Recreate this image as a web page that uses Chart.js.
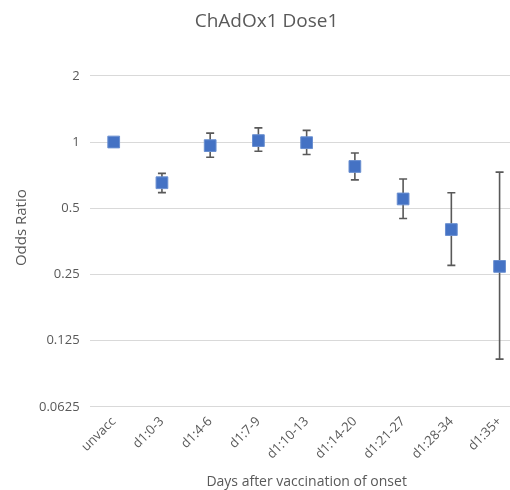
<!DOCTYPE html>
<html>
<head>
<meta charset="utf-8">
<script src="https://cdn.jsdelivr.net/npm/chart.js@4/dist/chart.umd.min.js"></script>
<style>
  html, body { margin: 0; padding: 0; overflow: hidden; background: #fff; }
  #wrap { width: 533px; height: 490px; }
</style>
</head>
<body>
<div id="wrap"><canvas id="c" width="533" height="490"></canvas></div>
<script>
const categories = ["unvacc", "d1:0-3", "d1:4-6", "d1:7-9", "d1:10-13", "d1:14-20", "d1:21-27", "d1:28-34", "d1:35+"];
const oddsRatio  = [1.0, 0.653, 0.963, 1.015, 0.993, 0.774, 0.551, 0.40, 0.272];
const lowerCI    = [null, 0.589, 0.853, 0.908, 0.877, 0.673, 0.449, 0.275, 0.103];
const upperCI    = [null, 0.72, 1.098, 1.16, 1.13, 0.892, 0.679, 0.588, 0.73];
const yTicks     = [0.0625, 0.125, 0.25, 0.5, 1, 2];

const textColor = '#595959';
const fontFamily = "'Open Sans', 'Liberation Sans', sans-serif";

const errorBars = {
  id: 'errorBars',
  beforeDatasetsDraw(chart) {
    const ctx = chart.ctx;
    const xs = chart.scales.x, ys = chart.scales.y;
    ctx.save();
    ctx.strokeStyle = '#595959';
    ctx.lineWidth = 1.6;
    for (let i = 0; i < categories.length; i++) {
      if (lowerCI[i] == null || upperCI[i] == null) continue;
      const x = xs.getPixelForValue(i);
      const yl = ys.getPixelForValue(lowerCI[i]);
      const yu = ys.getPixelForValue(upperCI[i]);
      const cap = 4;
      ctx.beginPath();
      ctx.moveTo(x, yl); ctx.lineTo(x, yu);
      ctx.moveTo(x - cap, yl); ctx.lineTo(x + cap, yl);
      ctx.moveTo(x - cap, yu); ctx.lineTo(x + cap, yu);
      ctx.stroke();
    }
    ctx.restore();
  }
};

new Chart(document.getElementById('c'), {
  type: 'line',
  data: {
    labels: categories,
    datasets: [{
      label: 'Odds Ratio',
      data: oddsRatio,
      showLine: false,
      pointStyle: 'rect',
      pointRadius: 8.3,
      pointHoverRadius: 8.3,
      backgroundColor: '#4472C4',
      borderColor: '#6a8fd0',
      pointBorderWidth: 1
    }]
  },
  options: {
    responsive: false,
    animation: false,
    layout: { padding: { left: 0, right: 0, top: 0, bottom: 0 } },
    plugins: {
      legend: { display: false },
      tooltip: { enabled: false },
      title: {
        display: true,
        text: 'ChAdOx1 Dose1',
        color: textColor,
        font: { family: fontFamily, size: 19, weight: 'normal' },
        padding: { top: 10, bottom: 43 }
      }
    },
    scales: {
      x: {
        type: 'category',
        offset: true,
        grid: { display: false, drawTicks: false },
        border: { display: false },
        ticks: {
          color: textColor,
          font: { family: fontFamily, size: 13 },
          minRotation: 45,
          maxRotation: 45,
          padding: 7,
          autoSkip: false
        },
        title: {
          display: true,
          text: 'Days after vaccination of onset',
          color: textColor,
          font: { family: fontFamily, size: 14 },
          padding: { top: 4, bottom: 0 }
        }
      },
      y: {
        type: 'logarithmic',
        min: 0.0625,
        max: 2,
        afterBuildTicks(axis) { axis.ticks = yTicks.map(v => ({ value: v })); },
        grid: { color: '#d9d9d9', lineWidth: 1, drawTicks: false },
        border: { display: false },
        ticks: {
          color: textColor,
          font: { family: fontFamily, size: 13 },
          padding: 10,
          callback: (v) => String(v)
        },
        title: {
          display: true,
          text: '       Odds Ratio',
          color: textColor,
          font: { family: fontFamily, size: 15, lineHeight: 1 },
          padding: { top: 14, bottom: 0 }
        }
      }
    }
  },
  plugins: [errorBars]
});
</script>
</body>
</html>
